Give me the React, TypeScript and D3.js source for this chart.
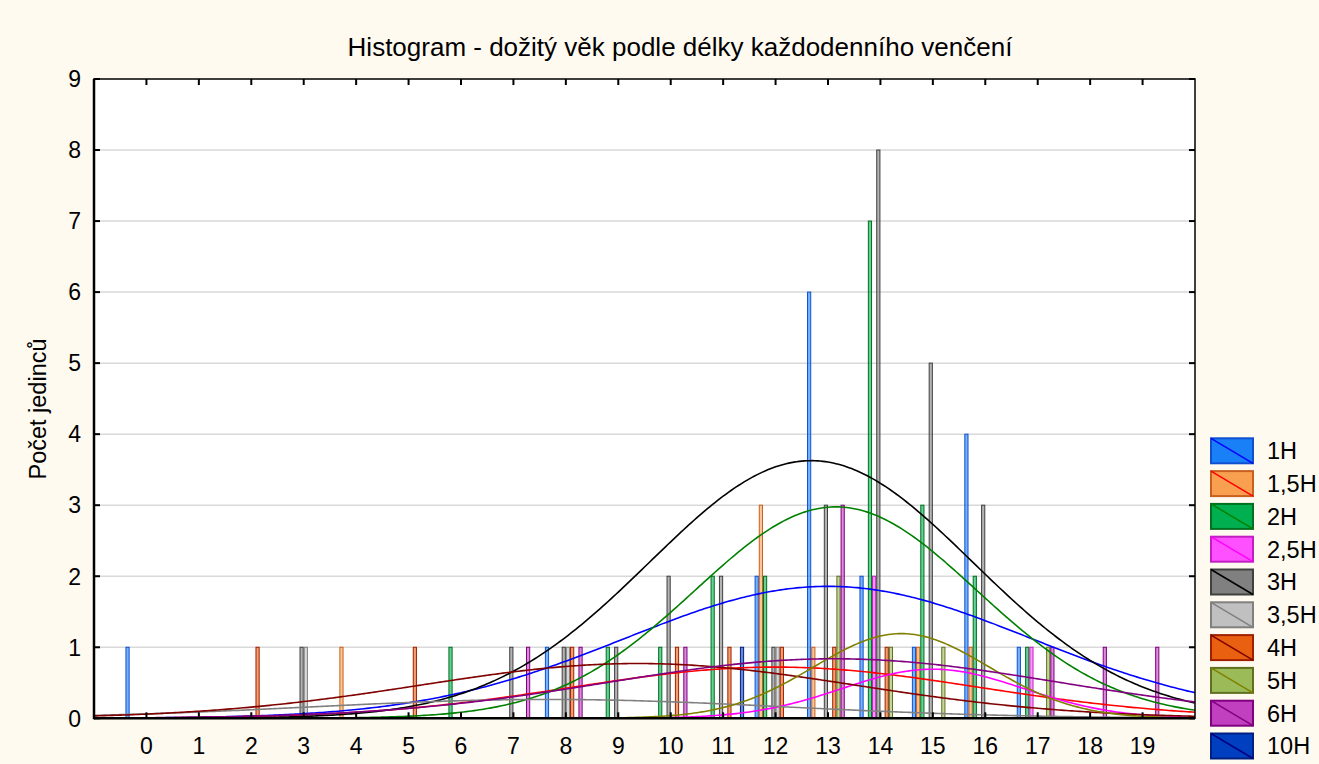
import React from "react";
import * as d3 from "d3";

const title = "Histogram - dožitý věk podle délky každodenního venčení";
const yTitle = "Počet jedinců";
const xTicks = [0, 1, 2, 3, 4, 5, 6, 7, 8, 9, 10, 11, 12, 13, 14, 15, 16, 17, 18, 19];
const yTicks = [0, 1, 2, 3, 4, 5, 6, 7, 8, 9];
const seriesNames = ["1H", "1,5H", "2H", "2,5H", "3H", "3,5H", "4H", "5H", "6H", "10H"];

// counts per category 0..19
const c1H = [1, 0, 0, 0, 0, 0, 0, 0, 1, 0, 0, 0, 2, 6, 2, 1, 4, 1, 0, 0];
const c15H = [0, 0, 0, 0, 1, 0, 0, 0, 0, 0, 0, 0, 3, 1, 0, 1, 1, 0, 0, 0];
const c2H = [0, 0, 0, 0, 0, 0, 1, 0, 0, 1, 1, 2, 2, 0, 7, 3, 2, 1, 0, 0];
const c25H = [0, 0, 0, 0, 0, 0, 0, 0, 0, 0, 0, 0, 0, 0, 2, 0, 0, 1, 0, 0];
const c3H = [0, 0, 0, 1, 0, 0, 0, 1, 1, 1, 2, 2, 1, 3, 8, 5, 3, 0, 0, 0];
const c35H = [0, 0, 0, 1, 0, 0, 0, 0, 1, 0, 0, 0, 1, 0, 0, 0, 0, 0, 0, 0];
const c4H = [0, 0, 1, 0, 0, 1, 0, 0, 1, 0, 1, 1, 1, 1, 1, 0, 0, 0, 0, 0];
const c5H = [0, 0, 0, 0, 0, 0, 0, 0, 0, 0, 0, 0, 0, 2, 1, 1, 0, 1, 0, 0];
const c6H = [0, 0, 0, 0, 0, 0, 0, 1, 1, 0, 1, 0, 0, 3, 0, 0, 0, 1, 1, 1];
const c10H = [0, 0, 0, 0, 0, 0, 0, 0, 0, 0, 0, 1, 0, 0, 0, 0, 0, 0, 0, 0];

const seriesCounts = [c1H, c15H, c2H, c25H, c3H, c35H, c4H, c5H, c6H, c10H];

const fillColors = ["#1a80f8", "#f8a050", "#00b050", "#ff50ff", "#808080", "#c0c0c0", "#e86010", "#9bbb59", "#c040c0", "#0040c0"];
const strokeColors = ["#1050d0", "#c86020", "#007020", "#c020c0", "#404040", "#808080", "#a02000", "#607020", "#800080", "#002080"];
const lineColors = ["#0000ff", "#ff0000", "#008000", "#ff00ff", "#000000", "#808080", "#800000", "#808000", "#800080", "#000080"];

const W = 1319, H = 764;
const L = 94, R = 1195, T = 79, B = 718.3;
const FONT = "'Liberation Sans', Arial, sans-serif";

export default function App() {
  const x = d3.scaleLinear().domain([-1, 20]).range([L, R]);
  const y = d3.scaleLinear().domain([0, 9]).range([B, T]);
  const nS = seriesNames.length;
  const groupW = 0.8;
  const slotW = groupW / nS;
  const bw = x(slotW) - x(0);

  const curves = seriesCounts.map((counts, si) => {
    const n = d3.sum(counts);
    if (n < 2) return null;
    const vals: number[] = [];
    counts.forEach((c, i) => { for (let k = 0; k < c; k++) vals.push(xTicks[i]); });
    const m = d3.mean(vals) as number;
    const sd = d3.deviation(vals) as number;
    const pts: [number, number][] = [];
    for (let t = -1; t <= 20.0001; t += 0.05) {
      const v = (n / (sd * Math.sqrt(2 * Math.PI))) * Math.exp(-((t - m) ** 2) / (2 * sd * sd));
      pts.push([t, v]);
    }
    const line = d3.line<[number, number]>().x(d => x(d[0])).y(d => y(d[1])).curve(d3.curveLinear);
    return { path: line(pts) as string, color: lineColors[si] };
  });

  const legendTop = 438.3, legendStep = 32.8;

  return (
    <svg width={W} height={H} style={{ position: "absolute", left: 0, top: 0 }} fontFamily={FONT}>
      <rect x={0} y={0} width={W} height={H} fill="#fffaf0" />
      <rect x={L} y={T} width={R - L} height={B - T} fill="#ffffff" />
      <defs>
        <clipPath id="plotclip"><rect x={L} y={T} width={R - L} height={B - T} /></clipPath>
      </defs>
      {/* grid */}
      {yTicks.filter(v => v > 0 && v < 9).map(v => (
        <line key={"g" + v} x1={L} x2={R} y1={y(v)} y2={y(v)} stroke="#d9d9d9" strokeWidth={1.5} />
      ))}
      {/* bars */}
      <g clipPath="url(#plotclip)">
        {seriesCounts.map((counts, si) => counts.map((c, ci) => c > 0 ? (
          <rect key={si + "-" + ci}
            x={x(xTicks[ci] - groupW / 2 + si * slotW) + 0.5}
            y={y(c)}
            width={bw - 1}
            height={y(0) - y(c)}
            fill={fillColors[si]} fillOpacity={0.6}
            stroke={strokeColors[si]} strokeWidth={1} />
        ) : null))}
        {curves.map((cv, i) => cv ? (
          <path key={"c" + i} d={cv.path} fill="none" stroke={cv.color} strokeWidth={1.6} />
        ) : null)}
      </g>
      {/* frame */}
      <rect x={L} y={T} width={R - L} height={B - T} fill="none" stroke="#000" strokeWidth={1.5} />
      <line x1={L} x2={L} y1={T} y2={B + 1} stroke="#000" strokeWidth={2.5} />
      <line x1={L} x2={R} y1={B} y2={B} stroke="#000" strokeWidth={2.5} />
      {/* ticks */}
      {yTicks.map(v => (
        <g key={"yt" + v}>
          <line x1={L} x2={L + 6} y1={y(v)} y2={y(v)} stroke="#000" strokeWidth={2} />
          <line x1={R - 6} x2={R} y1={y(v)} y2={y(v)} stroke="#000" strokeWidth={2} />
          <text x={81} y={y(v)} dy="0.36em" textAnchor="end" fontSize={23} fill="#000">{v}</text>
        </g>
      ))}
      {xTicks.map(v => (
        <g key={"xt" + v}>
          <line x1={x(v)} x2={x(v)} y1={B} y2={B - 6} stroke="#000" strokeWidth={2} />
          <line x1={x(v)} x2={x(v)} y1={T} y2={T + 6} stroke="#000" strokeWidth={2} />
          <text x={x(v)} y={754} textAnchor="middle" fontSize={23} fill="#000">{v}</text>
        </g>
      ))}
      {/* titles */}
      <text x={680} y={56} textAnchor="middle" fontSize={26} fill="#000">{title}</text>
      <text transform={`translate(46, 409) rotate(-90)`} textAnchor="middle" fontSize={23.5} fill="#000">{yTitle}</text>
      {/* legend */}
      {seriesNames.map((name, i) => {
        const ty = legendTop + i * legendStep;
        return (
          <g key={"lg" + i}>
            <rect x={1211} y={ty} width={42} height={25} fill={fillColors[i]} stroke={strokeColors[i]} strokeWidth={2} />
            <line x1={1211} y1={ty} x2={1253} y2={ty + 25} stroke={lineColors[i]} strokeWidth={1.5} />
            <text x={1267} y={ty + 12.5} dy="0.36em" fontSize={23.5} fill="#000">{name}</text>
          </g>
        );
      })}
    </svg>
  );
}
